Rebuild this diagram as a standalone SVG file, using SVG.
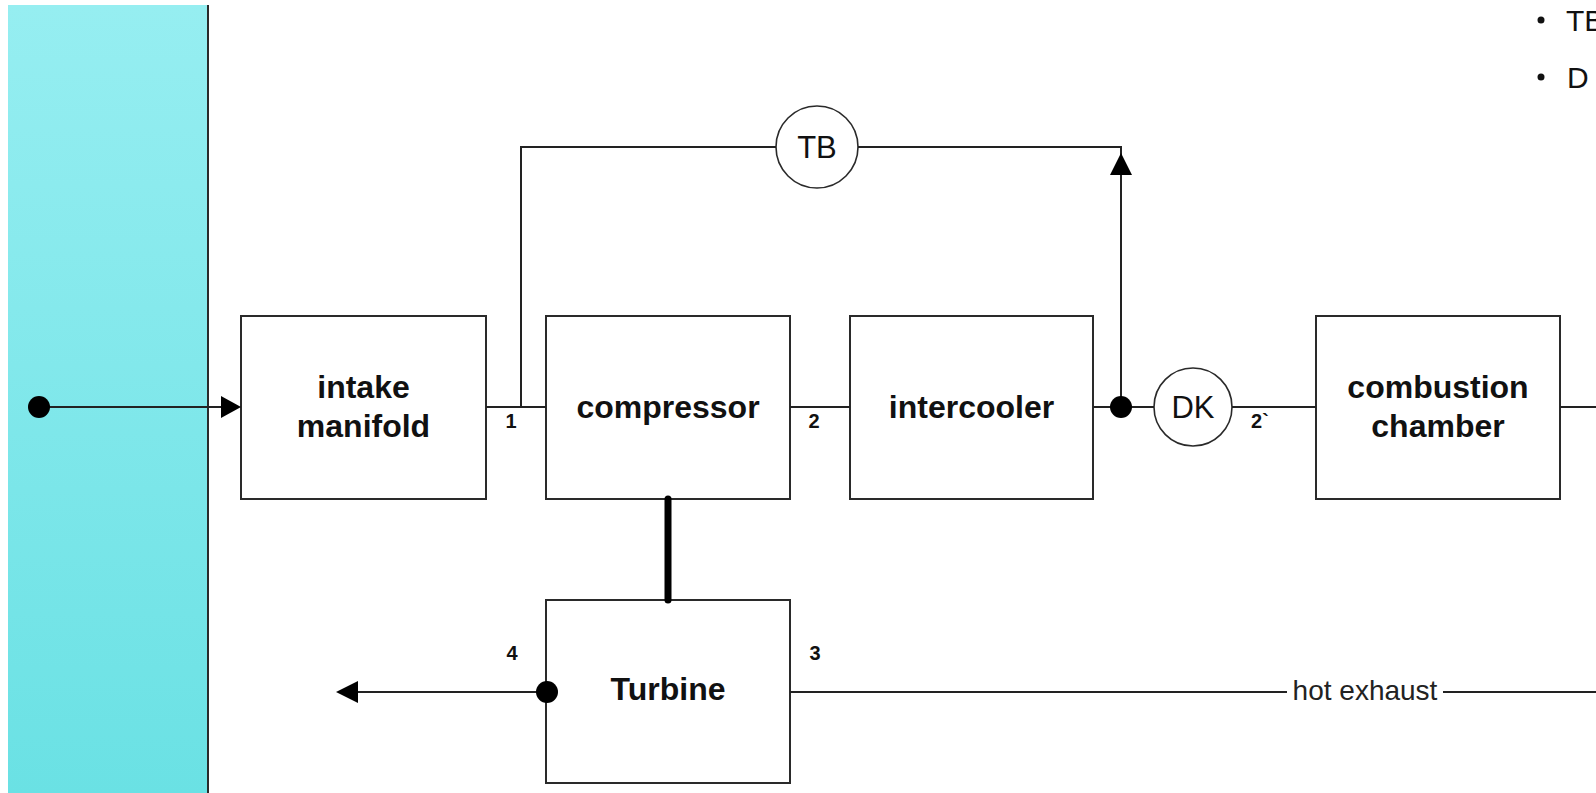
<svg xmlns="http://www.w3.org/2000/svg" width="1596" height="793" viewBox="0 0 1596 793">
  <defs>
    <linearGradient id="panelGrad" x1="0" y1="0" x2="0" y2="1">
      <stop offset="0" stop-color="#96eef1"/>
      <stop offset="1" stop-color="#6ae1e4"/>
    </linearGradient>
    <style>
      .box { fill: #ffffff; stroke: #2a2a2a; stroke-width: 2; }
      .circ { fill: #ffffff; stroke: #2a2a2a; stroke-width: 1.6; }
      .line { fill: none; stroke: #222222; stroke-width: 2; }
      .shaft { fill: none; stroke: #000000; stroke-width: 7; stroke-linecap: round; }
      .dot { fill: #000000; }
      .head { fill: #000000; }
      .lbl { font-family: "Liberation Sans", Arial, sans-serif; font-weight: bold; font-size: 32px; fill: #111111; text-anchor: middle; }
      .num { font-family: "Liberation Sans", Arial, sans-serif; font-weight: bold; font-size: 20px; fill: #111111; text-anchor: middle; }
      .sym { font-family: "Liberation Sans", Arial, sans-serif; font-size: 31px; fill: #111111; text-anchor: middle; }
      .note { font-family: "Liberation Sans", Arial, sans-serif; font-size: 28px; fill: #222222; }
      .legend { font-family: "Liberation Sans", Arial, sans-serif; font-size: 30px; fill: #111111; }
    </style>
  </defs>

  <rect width="1596" height="793" fill="#ffffff"/>

  <g id="panel">
    <rect x="8" y="5" width="200" height="788" fill="url(#panelGrad)"/>
    <line x1="208" y1="5" x2="208" y2="793" stroke="#2a2a2a" stroke-width="2"/>
  </g>

  <g id="legend">
    <circle cx="1541" cy="20" r="3.5" fill="#111111"/>
    <text class="legend" x="1566" y="31">TB</text>
    <circle cx="1541" cy="77" r="3.5" fill="#111111"/>
    <text class="legend" x="1567" y="88">D</text>
  </g>

  <g id="intake-manifold">
    <rect class="box" x="241" y="316" width="245" height="183"/>
    <text class="lbl" x="363.5" y="398">intake</text>
    <text class="lbl" x="363.5" y="437">manifold</text>
  </g>

  <g id="compressor">
    <rect class="box" x="546" y="316" width="244" height="183"/>
    <text class="lbl" x="668" y="418">compressor</text>
  </g>

  <g id="intercooler">
    <rect class="box" x="850" y="316" width="243" height="183"/>
    <text class="lbl" x="971.5" y="418">intercooler</text>
  </g>

  <g id="combustion-chamber">
    <rect class="box" x="1316" y="316" width="244" height="183"/>
    <text class="lbl" x="1438" y="398">combustion</text>
    <text class="lbl" x="1438" y="437">chamber</text>
  </g>

  <g id="turbine">
    <rect class="box" x="546" y="600" width="244" height="183"/>
    <text class="lbl" x="668" y="700">Turbine</text>
  </g>

  <g id="tb">
    <circle class="circ" cx="817" cy="147" r="41"/>
    <text class="sym" x="817" y="158">TB</text>
  </g>

  <g id="dk">
    <circle class="circ" cx="1193" cy="407" r="39"/>
    <text class="sym" x="1193" y="418">DK</text>
  </g>

  <g id="connectors">
    <line class="line" x1="39" y1="407" x2="222" y2="407"/>
    <polygon class="head" points="241,407 221,396 221,418"/>
    <line class="line" x1="486" y1="407" x2="546" y2="407"/>
    <line class="line" x1="790" y1="407" x2="850" y2="407"/>
    <line class="line" x1="1093" y1="407" x2="1154" y2="407"/>
    <line class="line" x1="1232" y1="407" x2="1316" y2="407"/>
    <line class="line" x1="1560" y1="407" x2="1596" y2="407"/>
    <polyline class="line" points="521,407 521,147 776,147"/>
    <polyline class="line" points="858,147 1121,147 1121,407"/>
    <polygon class="head" points="1121,153 1110,175 1132,175"/>
    <line class="shaft" x1="668" y1="499" x2="668" y2="600"/>
    <line class="line" x1="790" y1="692" x2="1287" y2="692"/>
    <line class="line" x1="1443" y1="692" x2="1596" y2="692"/>
    <text class="note" x="1365" y="700" text-anchor="middle">hot exhaust</text>
    <line class="line" x1="357" y1="692" x2="547" y2="692"/>
    <polygon class="head" points="336,692 358,681 358,703"/>
    <circle class="dot" cx="39" cy="407" r="11"/>
    <circle class="dot" cx="1121" cy="407" r="11"/>
    <circle class="dot" cx="547" cy="692" r="11"/>
  </g>

  <g id="labels">
    <text class="num" x="511" y="428">1</text>
    <text class="num" x="814" y="428">2</text>
    <text class="num" x="1260" y="428" text-anchor="start">2`</text>
    <text class="num" x="512" y="660">4</text>
    <text class="num" x="815" y="660">3</text>
  </g>
</svg>
